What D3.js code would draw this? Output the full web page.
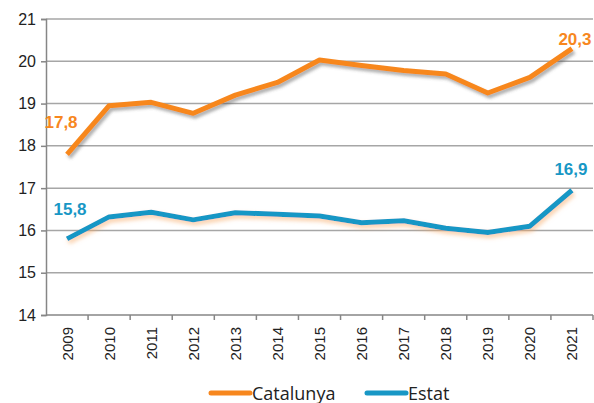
<!DOCTYPE html>
<html>
<head>
<meta charset="utf-8">
<script src="https://d3js.org/d3.v7.min.js"></script>
<style>
  body { margin: 0; background: #fff; }
  .tick text { font-family: "Liberation Sans", Arial, sans-serif; fill: #222; }
</style>
</head>
<body>
<script>
// chart values
const years = ["2009","2010","2011","2012","2013","2014","2015","2016","2017","2018","2019","2020","2021"];
const catalunya = [17.8, 18.95, 19.03, 18.77, 19.2, 19.5, 20.03, 19.9, 19.78, 19.7, 19.25, 19.62, 20.3];
const estat = [15.8, 16.32, 16.43, 16.25, 16.42, 16.38, 16.34, 16.18, 16.23, 16.05, 15.95, 16.1, 16.95];
const yTicks = [14, 15, 16, 17, 18, 19, 20, 21];

const width = 594, height = 403;
const margin = {top: 19, right: 1, bottom: 88, left: 46};

const svg = d3.select("body").append("svg")
    .attr("width", width)
    .attr("height", height);

const defs = svg.append("defs");
defs.append("filter").attr("id", "shadowGray")
    .attr("x", "-10%").attr("y", "-10%").attr("width", "120%").attr("height", "130%")
  .append("feDropShadow")
    .attr("dx", 2).attr("dy", 3).attr("stdDeviation", 1.8)
    .attr("flood-color", "#555").attr("flood-opacity", 0.45);
defs.append("filter").attr("id", "shadowPeach")
    .attr("x", "-10%").attr("y", "-30%").attr("width", "120%").attr("height", "180%")
  .append("feDropShadow")
    .attr("dx", 1.5).attr("dy", 3).attr("stdDeviation", 2)
    .attr("flood-color", "#f7a560").attr("flood-opacity", 0.55);

const x = d3.scaleBand()
    .domain(years)
    .range([margin.left, width - margin.right]);

const y = d3.scaleLinear()
    .domain([14, 21])
    .range([height - margin.bottom, margin.top]);

// gridlines
svg.append("g")
  .selectAll("line")
  .data(yTicks.filter(d => d > 14))
  .join("line")
    .attr("x1", margin.left)
    .attr("x2", width - margin.right)
    .attr("y1", d => y(d))
    .attr("y2", d => y(d))
    .attr("stroke", "#a6a6a6")
    .attr("stroke-width", 1.5);

// y axis
const yAxis = svg.append("g")
    .attr("transform", `translate(${margin.left},0)`)
    .call(d3.axisLeft(y).tickValues(yTicks).tickSize(5).tickPadding(5).tickFormat(d3.format("d")));
yAxis.selectAll("text").style("font-size", "16px");
yAxis.select(".domain").attr("stroke", "#868686").attr("stroke-width", 1.5);
yAxis.selectAll(".tick line").attr("stroke", "#868686").attr("stroke-width", 1.5);

// x axis, ticks at band boundaries
const xAxis = svg.append("g")
    .attr("transform", `translate(0,${y(14)})`);
xAxis.append("line")
    .attr("x1", margin.left).attr("x2", width - margin.right)
    .attr("stroke", "#868686").attr("stroke-width", 1.5);
xAxis.selectAll(".bt")
  .data(years)
  .join("line")
    .attr("class", "bt")
    .attr("x1", d => x(d) + x.bandwidth())
    .attr("x2", d => x(d) + x.bandwidth())
    .attr("y1", 0).attr("y2", 5)
    .attr("stroke", "#868686").attr("stroke-width", 1.5);
xAxis.selectAll("text")
  .data(years)
  .join("text")
    .attr("transform", d => `translate(${x(d) + x.bandwidth() / 2 + 5.5},12) rotate(-90)`)
    .attr("text-anchor", "end")
    .style("font-family", "'Liberation Sans', Arial, sans-serif")
    .style("font-size", "15px")
    .attr("fill", "#222")
    .text(d => d);

const line = d3.line()
    .x((d, i) => x(years[i]) + x.bandwidth() / 2)
    .y(d => y(d));

svg.append("path")
    .datum(catalunya)
    .attr("d", line)
    .attr("fill", "none")
    .attr("stroke", "#f7871e")
    .attr("stroke-width", 5)
    .attr("stroke-linejoin", "round")
    .attr("filter", "url(#shadowGray)");

svg.append("path")
    .datum(estat)
    .attr("d", line)
    .attr("fill", "none")
    .attr("stroke", "#1897c5")
    .attr("stroke-width", 5)
    .attr("stroke-linejoin", "round")
    .attr("filter", "url(#shadowPeach)");

// data labels at first and last points
const fmt = v => d3.format(".1f")(v).replace(".", ",");
const labels = [
  {v: catalunya[0], i: 0, color: "#f7871e", dx: -6, dy: -26},
  {v: catalunya[12], i: 12, color: "#f7871e", dx: 3, dy: -4},
  {v: estat[0], i: 0, color: "#1897c5", dx: 3, dy: -24},
  {v: estat[12], i: 12, color: "#1897c5", dx: -1, dy: -15}
];
svg.append("g")
  .selectAll("text")
  .data(labels)
  .join("text")
    .attr("x", d => x(years[d.i]) + x.bandwidth() / 2 + d.dx)
    .attr("y", d => y(d.v) + d.dy)
    .attr("text-anchor", "middle")
    .style("font-family", "'Liberation Sans', Arial, sans-serif")
    .style("font-size", "17px")
    .style("font-weight", "bold")
    .attr("fill", d => d.color)
    .text(d => fmt(d.v));

// legend
const legend = [
  {name: "Catalunya", color: "#f7871e", x: 211},
  {name: "Estat", color: "#1897c5", x: 367}
];
const lg = svg.append("g").selectAll("g").data(legend).join("g")
    .attr("transform", d => `translate(${d.x},393)`);
lg.append("line")
    .attr("x1", 0).attr("x2", 39)
    .attr("stroke", d => d.color)
    .attr("stroke-width", 5)
    .attr("stroke-linecap", "round");
lg.append("text")
    .attr("x", 41)
    .attr("y", 6.5)
    .style("font-family", "'Open Sans', sans-serif")
    .style("font-size", "18px")
    .attr("fill", "#222")
    .text(d => d.name);
</script>
</body>
</html>
